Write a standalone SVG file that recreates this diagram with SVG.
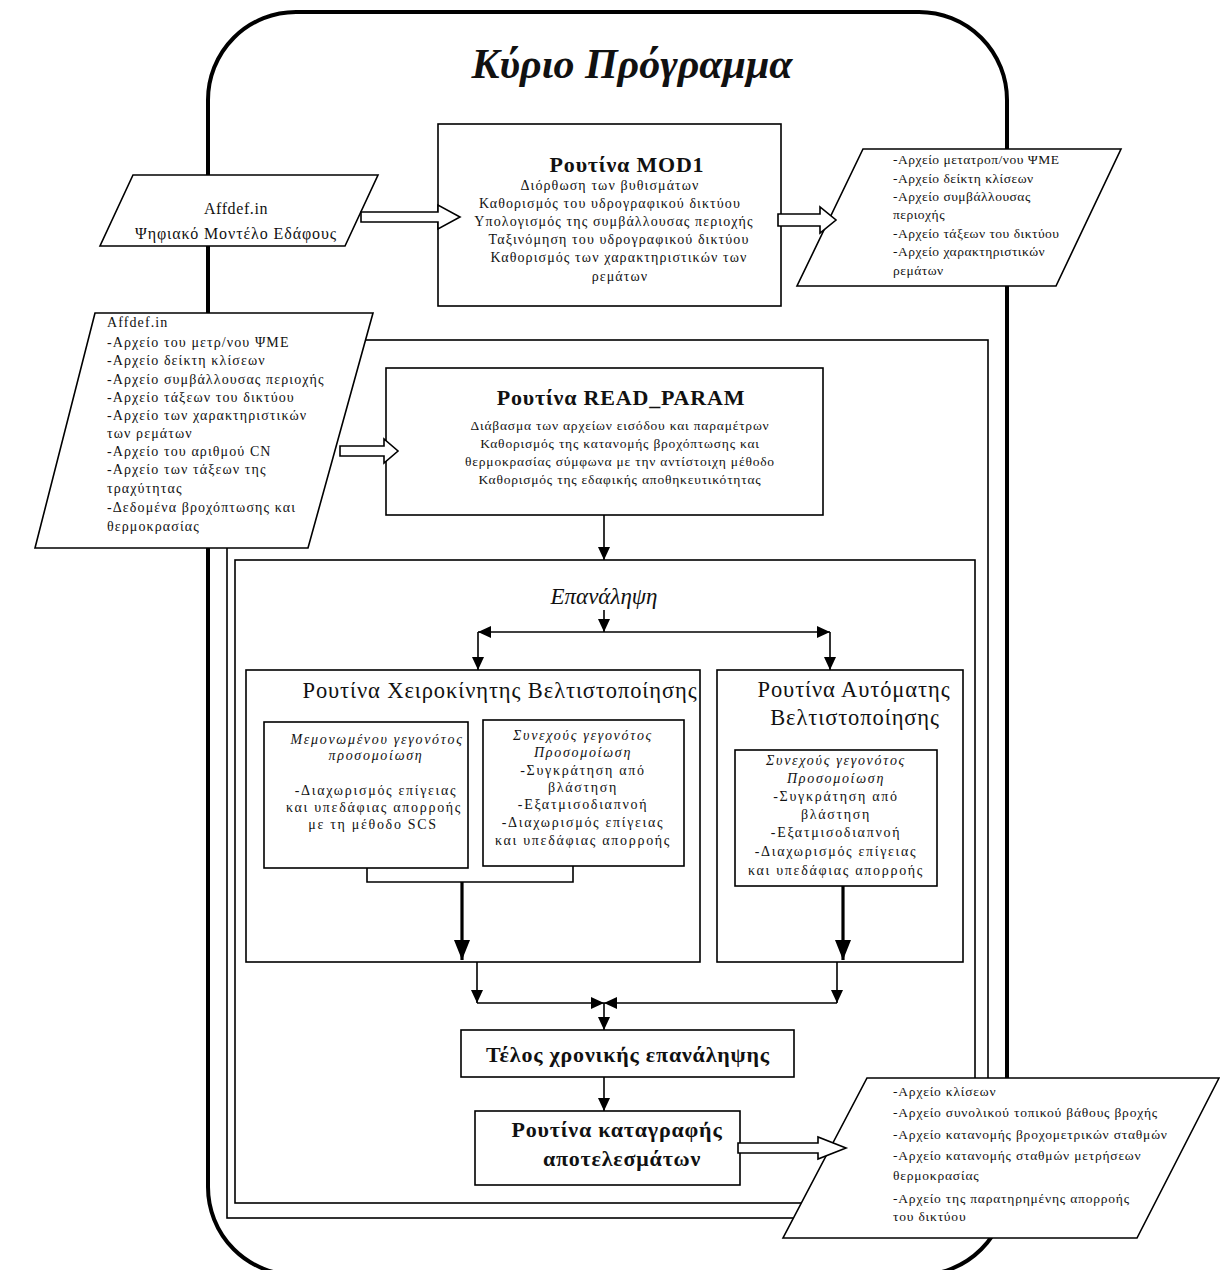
<svg xmlns="http://www.w3.org/2000/svg" width="1220" height="1270" viewBox="0 0 1220 1270">
<defs>
<style>
.t{font-family:"Liberation Serif","DejaVu Serif",serif;fill:#111;}
.b{font-size:14px;letter-spacing:1.1px;}
.r{font-size:13.5px;letter-spacing:0.8px;}
.q{font-size:13.5px;letter-spacing:0.5px;}
.n{font-size:14px;letter-spacing:1.7px;}
.h{font-size:22px;font-weight:bold;letter-spacing:0.8px;}
.hr{font-size:22.5px;letter-spacing:0.9px;}
.it{font-style:italic;}
.c{text-anchor:middle;}
.box{fill:#fff;stroke:#000;stroke-width:1.6;}
.frame{fill:none;stroke:#000;stroke-width:1.6;}
.ln{fill:none;stroke:#000;stroke-width:1.6;}
.thk{fill:none;stroke:#000;stroke-width:3.2;}
.harrow{fill:#fff;stroke:#000;stroke-width:1.6;}
</style>
<marker id="ah" markerUnits="userSpaceOnUse" markerWidth="14" markerHeight="12" refX="13" refY="6" orient="auto">
<path d="M0,0 L13,6 L0,12 z" fill="#000"/>
</marker>
<marker id="ahk" markerUnits="userSpaceOnUse" markerWidth="20" markerHeight="16" refX="20" refY="8" orient="auto">
<path d="M0,0 L20,8 L0,16 z" fill="#000"/>
</marker>
</defs>
<rect width="1220" height="1270" fill="#fff"/>

<g id="main-program">
<rect x="208" y="12" width="799" height="1263" rx="88" fill="none" stroke="#000" stroke-width="4"/>
<text class="t it" x="632" y="78" text-anchor="middle" font-size="42" font-weight="bold">Κύριο Πρόγραμμα</text>
</g>

<g id="outer-frame">
<rect class="frame" x="227" y="340" width="761" height="878"/>
</g>

<g id="loop-frame">
<rect class="frame" x="235" y="560" width="740" height="643"/>
<text class="t it c" x="604" y="604" font-size="23">Επανάληψη</text>
</g>

<g id="mod1">
<rect class="box" x="438" y="124" width="343" height="182"/>
<text class="t h c" x="627" y="172">Ρουτίνα MOD1</text>
<text class="t b c" x="610" y="190">Διόρθωση των βυθισμάτων</text>
<text class="t b c" x="610" y="208">Καθορισμός του υδρογραφικού δικτύου</text>
<text class="t b c" x="614" y="226">Υπολογισμός της συμβάλλουσας περιοχής</text>
<text class="t b c" x="619" y="244">Ταξινόμηση του υδρογραφικού δικτύου</text>
<text class="t b c" x="619" y="262">Καθορισμός των χαρακτηριστικών των</text>
<text class="t b c" x="620" y="281">ρεμάτων</text>
</g>

<g id="read-param">
<rect class="box" x="386" y="368" width="437" height="147"/>
<text class="t h c" x="621" y="405">Ρουτίνα READ_PARAM</text>
<text class="t r c" x="620" y="430">Διάβασμα των αρχείων εισόδου και παραμέτρων</text>
<text class="t r c" x="620" y="448">Καθορισμός της κατανομής βροχόπτωσης και</text>
<text class="t r c" x="620" y="466">θερμοκρασίας σύμφωνα με την αντίστοιχη μέθοδο</text>
<text class="t r c" x="620" y="484">Καθορισμός της εδαφικής αποθηκευτικότητας</text>
</g>

<g id="manual-opt">
<rect class="box" x="246" y="670" width="454" height="292"/>
<text class="t hr c" x="500" y="698" letter-spacing="0.6">Ρουτίνα Χειροκίνητης Βελτιστοποίησης</text>
</g>

<g id="manual-single">
<rect class="box" x="264" y="722" width="204" height="146"/>
<text class="t n c it" x="377" y="744" font-size="12.5">Μεμονωμένου γεγονότος</text>
<text class="t n c it" x="376" y="760" font-size="12.5">προσομοίωση</text>
<text class="t n c" x="376" y="795">-Διαχωρισμός  επίγειας</text>
<text class="t n c" x="374" y="812">και υπεδάφιας απορροής</text>
<text class="t n c" x="373" y="829">με τη μέθοδο SCS</text>
</g>

<g id="manual-continuous">
<rect class="box" x="483" y="720" width="201" height="146"/>
<text class="t n c it" x="583" y="740" font-size="12.5">Συνεχούς γεγονότος</text>
<text class="t n c it" x="583" y="757" font-size="12.5">Προσομοίωση</text>
<text class="t n c" x="583" y="775">-Συγκράτηση από</text>
<text class="t n c" x="583" y="792">βλάστηση</text>
<text class="t n c" x="583" y="809">-Εξατμισοδιαπνοή</text>
<text class="t n c" x="583" y="827">-Διαχωρισμός επίγειας</text>
<text class="t n c" x="583" y="845">και υπεδάφιας απορροής</text>
</g>

<g id="auto-opt">
<rect class="box" x="717" y="670" width="246" height="292"/>
<text class="t hr c" x="854" y="697">Ρουτίνα Αυτόματης</text>
<text class="t hr c" x="855" y="725">Βελτιστοποίησης</text>
</g>

<g id="auto-continuous">
<rect class="box" x="735" y="750" width="202" height="136"/>
<text class="t n c it" x="836" y="765" font-size="12.5">Συνεχούς γεγονότος</text>
<text class="t n c it" x="836" y="783" font-size="12.5">Προσομοίωση</text>
<text class="t n c" x="836" y="801">-Συγκράτηση από</text>
<text class="t n c" x="836" y="819">βλάστηση</text>
<text class="t n c" x="836" y="837">-Εξατμισοδιαπνοή</text>
<text class="t n c" x="836" y="856">-Διαχωρισμός επίγειας</text>
<text class="t n c" x="836" y="875">και υπεδάφιας απορροής</text>
</g>

<g id="loop-end">
<rect class="box" x="461" y="1030" width="333" height="47"/>
<text class="t h c" x="628" y="1062" letter-spacing="1.6">Τέλος χρονικής επανάληψης</text>
</g>

<g id="output-routine">
<rect class="box" x="475" y="1111" width="265" height="74"/>
<text class="t h c" x="617" y="1137">Ρουτίνα καταγραφής</text>
<text class="t h c" x="622" y="1166">αποτελεσμάτων</text>
</g>

<g id="input-dem">
<polygon class="box" points="133,175 378,175 345,246 100,246"/>
<text class="t c" x="236" y="214" font-size="16" letter-spacing="0.6">Affdef.in</text>
<text class="t c" x="236" y="239" font-size="16" letter-spacing="0.9">Ψηφιακό Μοντέλο Εδάφους</text>
</g>

<g id="input-files">
<polygon class="box" points="95,313 373,313 308,548 35,548"/>
<text class="t b" x="107" y="327">Affdef.in</text>
<text class="t b" x="107" y="347">-Αρχείο του μετρ/νου ΨΜΕ</text>
<text class="t b" x="107" y="365">-Αρχείο δείκτη κλίσεων</text>
<text class="t b" x="107" y="384">-Αρχείο συμβάλλουσας περιοχής</text>
<text class="t b" x="107" y="402">-Αρχείο τάξεων του δικτύου</text>
<text class="t b" x="107" y="420">-Αρχείο των χαρακτηριστικών</text>
<text class="t b" x="107" y="438">των ρεμάτων</text>
<text class="t b" x="107" y="456">-Αρχείο του αριθμού CN</text>
<text class="t b" x="107" y="474">-Αρχείο των τάξεων της</text>
<text class="t b" x="107" y="493">τραχύτητας</text>
<text class="t b" x="107" y="512">-Δεδομένα βροχόπτωσης και</text>
<text class="t b" x="107" y="531">θερμοκρασίας</text>
</g>

<g id="mod1-output">
<polygon class="box" points="863,149 1121,149 1056,286 797,286"/>
<text class="t q" x="893" y="164">-Αρχείο μετατροπ/νου ΨΜΕ</text>
<text class="t q" x="893" y="183">-Αρχείο δείκτη κλίσεων</text>
<text class="t q" x="893" y="201">-Αρχείο συμβάλλουσας</text>
<text class="t q" x="893" y="219">περιοχής</text>
<text class="t q" x="893" y="238">-Αρχείο τάξεων του δικτύου</text>
<text class="t q" x="893" y="256">-Αρχείο χαρακτηριστικών</text>
<text class="t q" x="893" y="275">ρεμάτων</text>
</g>

<g id="results-output">
<polygon class="box" points="867,1078 1219,1078 1137,1238 783,1238"/>
<text class="t r" x="893" y="1096">-Αρχείο κλίσεων</text>
<text class="t r" x="893" y="1117">-Αρχείο συνολικού τοπικού βάθους βροχής</text>
<text class="t r" x="893" y="1139">-Αρχείο κατανομής βροχομετρικών σταθμών</text>
<text class="t r" x="893" y="1160">-Αρχείο κατανομής σταθμών μετρήσεων</text>
<text class="t r" x="893" y="1180">θερμοκρασίας</text>
<text class="t r" x="893" y="1203">-Αρχείο της παρατηρημένης απορροής</text>
<text class="t r" x="893" y="1221">του δικτύου</text>
</g>

<g id="connectors">
<polygon class="harrow" points="361,212 438,212 438,205 460,217 438,229 438,222 361,222"/>
<polygon class="harrow" points="778,214 820,214 820,207 836,220 820,233 820,226 778,226"/>
<polygon class="harrow" points="340,446 384,446 384,439 398,451 384,463 384,456 340,456"/>
<polygon class="harrow" points="738,1143 818,1143 818,1137 846,1148 818,1159 818,1153 738,1153"/>

<line class="ln" x1="604" y1="515" x2="604" y2="560" marker-end="url(#ah)"/>
<line class="ln" x1="604" y1="610" x2="604" y2="632" marker-end="url(#ah)"/>
<line class="ln" x1="604" y1="632" x2="478" y2="632" marker-end="url(#ah)"/>
<line class="ln" x1="604" y1="632" x2="830" y2="632" marker-end="url(#ah)"/>
<line class="ln" x1="478" y1="632" x2="478" y2="670" marker-end="url(#ah)"/>
<line class="ln" x1="830" y1="632" x2="830" y2="670" marker-end="url(#ah)"/>

<polyline class="ln" points="367,868 367,882 573,882 573,866"/>
<line class="thk" x1="462" y1="882" x2="462" y2="960" marker-end="url(#ahk)"/>
<line class="thk" x1="843" y1="886" x2="843" y2="960" marker-end="url(#ahk)"/>

<line class="ln" x1="477" y1="962" x2="477" y2="1003" marker-end="url(#ah)"/>
<line class="ln" x1="837" y1="962" x2="837" y2="1003" marker-end="url(#ah)"/>
<line class="ln" x1="477" y1="1003" x2="604" y2="1003" marker-end="url(#ah)"/>
<line class="ln" x1="837" y1="1003" x2="604" y2="1003" marker-end="url(#ah)"/>
<line class="ln" x1="604" y1="1003" x2="604" y2="1030" marker-end="url(#ah)"/>
<line class="ln" x1="604" y1="1077" x2="604" y2="1111" marker-end="url(#ah)"/>
</g>
</svg>
